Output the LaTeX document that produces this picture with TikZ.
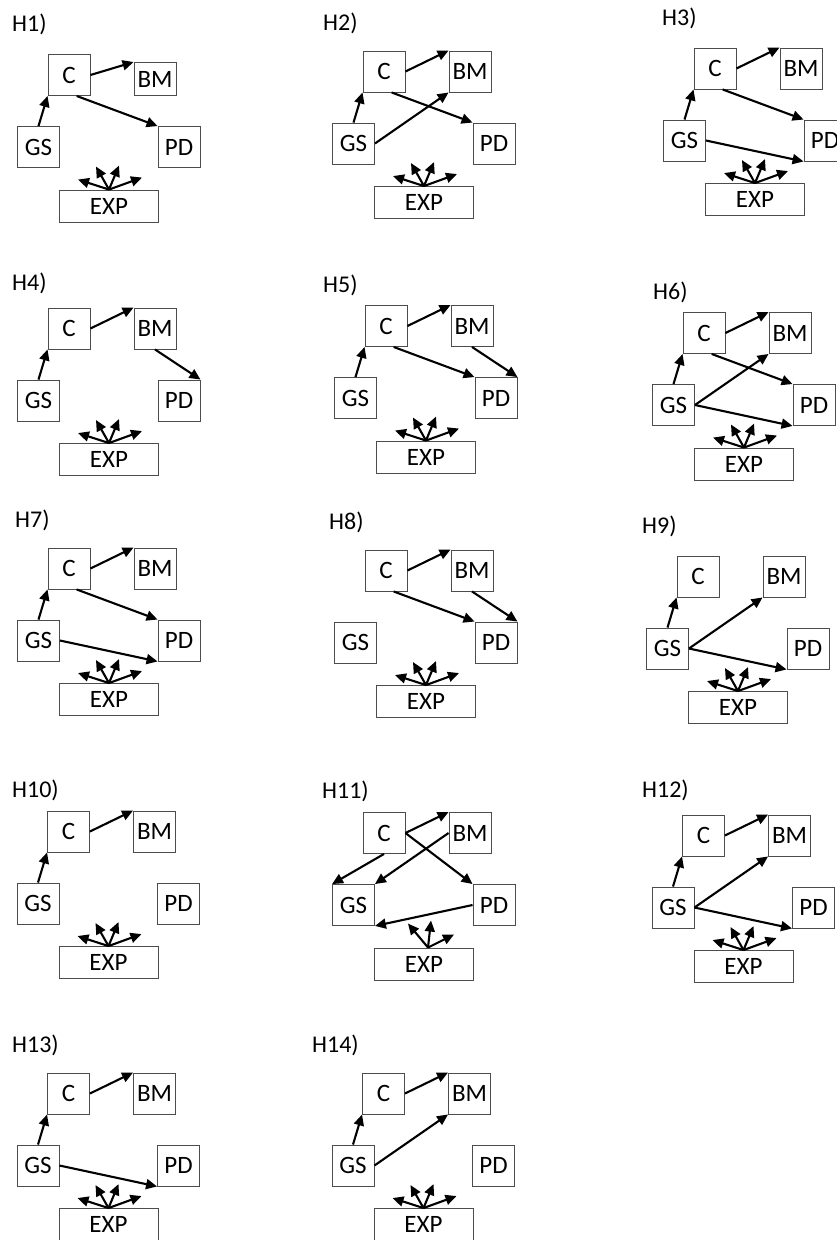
\documentclass[tikz,border=0pt]{standalone}
\usepackage{fontspec}
\setmainfont{Carlito}
\usetikzlibrary{arrows.meta}

\begin{document}
\begin{tikzpicture}[x=1pt,y=-1pt,font=\fontsize{24}{28}\selectfont,
  box/.style={draw=black!70,line width=0.9pt,minimum width=42pt,minimum height=41pt,inner sep=0pt,
    font=\fontsize{25}{29}\selectfont},
  expbox/.style={box,minimum width=99pt,minimum height=32pt},
  arr/.style={-{Triangle[length=11pt,width=10pt]},line width=2.1pt}]
\useasboundingbox (0,0) rectangle (837,1240);
\clip (0,0) rectangle (837,1240);
% one panel per hypothesis: number / centre of C / label / height of BM
\foreach \n/\x/\y/\lx/\ly/\bh in {1/69/75/12/24/33, 2/384/71.5/323/23/41, 3/715/68.5/662/18/41,
    4/69/328.5/12/283/41, 5/386/326/323/285/41, 6/704/333/653/292/41,
    7/69/568.5/15/520/41, 8/386/570.5/329/522/41, 9/698/576.5/642/526/41,
    10/68.5/831.5/12/790/41, 11/384/833/322/791/41, 12/703.5/835.5/642/790/41,
    13/68.5/1093.5/12/1045/41, 14/383.5/1093.5/312/1045/41}{
  \node[anchor=west,inner sep=0pt] (L\n) at (\lx,\ly) {H\n)};
  \node[box] (C\n) at (\x,\y) {C};
  \node[box,minimum height=\bh pt] (BM\n) at ({\x+86},{\y+(41-\bh)/2}) {BM};
  \node[box] (GS\n) at ({\x-30.5},{\y+72}) {GS};
  \node[box] (PD\n) at ({\x+110},{\y+72}) {PD};
  \node[expbox] (E\n) at ({\x+40},{\y+131}) {EXP};
}
% links between the boxes
\foreach \n in {1,2,3,4,5,6,7,9,10,12,13,14}
  \draw[arr] (GS\n.north) -- (C\n.south west);
\foreach \n in {1,2,3,4,5,6,7,8,10,11,12,13,14}
  \draw[arr] (C\n.east) -- (BM\n.north west);
\foreach \n in {1,2,3,5,6,7,8}
  \draw[arr] (C\n.-70) -- (PD\n.north west);
\foreach \n in {2,6,9,12,14}
  \draw[arr] (GS\n.east) -- (BM\n.south west);
\foreach \n in {3,6,7,9,12,13}
  \draw[arr] (GS\n.east) -- (PD\n.south west);
\foreach \n in {4,5,8}
  \draw[arr] (BM\n.south) -- (PD\n.north east);
\draw[arr] (C11.south) -- (GS11.north west);
\draw[arr] (C11.east) -- (PD11.north west);
\draw[arr] (BM11.west) -- (GS11.north east);
\draw[arr] (PD11.west) -- (GS11.south east);
% arrows out of EXP
\foreach \n in {1,2,3,4,5,6,7,8,9,10,12,13,14}
  \foreach \dx/\dy in {-31/-10,-13/-23,10/-24,33/-12}
    \draw[arr] (E\n.north) -- ++(\dx,\dy);
\path (E11.north) ++(4,0) coordinate (X11);
\foreach \dx/\dy in {-20/-24,3/-27,26/-13}
  \draw[arr] (X11) -- ++(\dx,\dy);
\end{tikzpicture}
\end{document}
